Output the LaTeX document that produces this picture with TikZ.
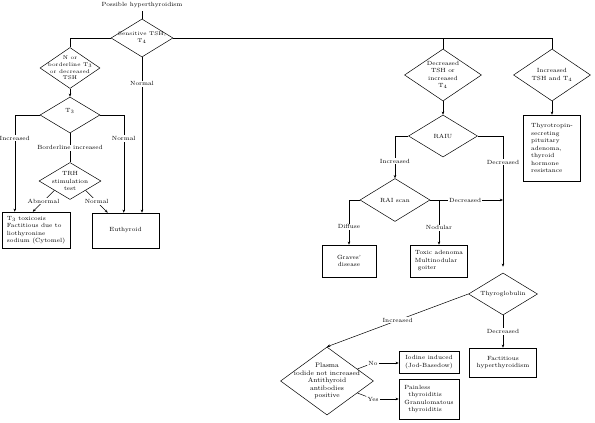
\documentclass[tikz,border=0pt]{standalone}
\usetikzlibrary{shapes.geometric,arrows.meta,calc}

\begin{document}
\begin{tikzpicture}[x=1pt,y=-1pt, font=\fontsize{6}{7.5}\selectfont,
  >={Stealth[length=3.2pt,width=2.6pt]}, line width=0.5pt,
  dec/.style={draw, diamond, inner sep=0pt},
  res/.style={draw, inner sep=2pt},
  lab/.style={fill=white, inner sep=1pt},
  tiny/.style={font=\fontsize{5.4}{6.6}\selectfont}]

\useasboundingbox (0,0) rectangle (595,423);

% Decisioni
\node (start) at (142,5) {Possible hyperthyroidism};
\node[dec, minimum width=62pt, minimum height=38pt,
  label={[align=center, tiny]center:{Sensitive TSH,\\T$_4$}}] (sens) at (142,38) {};
\node[dec, minimum width=60pt, minimum height=41pt,
  label={[align=center, tiny]center:{N or\\borderline T$_3$\\or decreased\\TSH}}] (ndia) at (70,68) {};
\node[dec, minimum width=60pt, minimum height=36pt,
  label={[align=center, yshift=4pt]center:{T$_3$}}] (t3) at (70,115) {};
\node[dec, minimum width=62pt, minimum height=37pt,
  label={[align=center]center:{TRH\\stimulation\\test}}] (trh) at (70,181) {};
\node[dec, minimum width=77pt, minimum height=52pt,
  label={[align=center]center:{Decreased\\TSH or\\increased\\T$_4$}}] (dec) at (443,75) {};
\node[dec, minimum width=77pt, minimum height=52pt,
  label={[align=center]center:{Increased\\TSH and T$_4$}}] (inc) at (552,75) {};
\node[dec, minimum width=69pt, minimum height=42pt,
  label={center:RAIU}] (raiu) at (443,136) {};
\node[dec, minimum width=70pt, minimum height=43pt,
  label={center:RAI scan}] (rais) at (395,200) {};
\node[dec, minimum width=69pt, minimum height=42pt,
  label={center:Thyroglobulin}] (thyg) at (503,294) {};
\node[dec, minimum width=93pt, minimum height=68pt,
  label={[align=center, font=\fontsize{6.6}{7.6}\selectfont]center:{Plasma\\iodide not increased\\Antithyroid\\antibodies\\positive}}] (plas) at (327,381) {};

% Esiti
\node[res, minimum width=68pt, minimum height=36pt, align=left] (tox) at (36,230)
  {T$_3$ toxicosis\\Factitious due to\\liothyronine\\sodium (Cytomel)};
\node[res, minimum width=67pt, minimum height=35pt] (euth) at (125.5,230.5) {Euthyroid};
\node[res, minimum width=57pt, minimum height=66pt, align=left] (ttsh) at (552,148)
  {Thyrotropin-\\secreting\\pituitary\\adenoma,\\thyroid\\hormone\\resistance};
\node[res, minimum width=54pt, minimum height=32pt, align=center] (grav) at (349,261) {Graves'\\disease};
\node[res, minimum width=57pt, minimum height=32pt, align=left] (toxa) at (439,261)
  {Toxic adenoma\\Multinodular\\\hspace{3pt}goiter};
\node[res, minimum width=67pt, minimum height=29pt, align=center] (fact) at (503,362.5)
  {Factitious\\hyperthyroidism};
\node[res, minimum width=60pt, minimum height=22pt, align=center] (iod) at (429,362)
  {Iodine induced\\(Jod-Basedow)};
\node[res, minimum width=60pt, minimum height=40pt, align=left] (pain) at (429,399)
  {Painless\\\hspace{4pt}thyroiditis\\Granulomatous\\\hspace{4pt}thyroiditis};
\node[inner sep=1pt] (no) at (373,363) {No};
\node[inner sep=1pt] (yes) at (373,399) {Yes};

% Collegamenti ramo sinistro
\draw (start) -- (sens.north);
\draw (sens.west) -| (ndia.north);
\draw[->] (ndia.south) -- (t3.north);
\draw[->] (t3.west) -| node[lab, pos=0.62] {Increased} ([xshift=13pt]tox.north west);
\draw[->] (t3.east) -| node[lab, pos=0.62] {Normal} ([xshift=32pt]euth.north west);
\draw (t3.south) -- node[lab] {Borderline increased} (trh.north);
\draw[->] (trh.south west) -- node[lab] {Abnormal} ([xshift=31pt]tox.north west);
\draw[->] (trh.south east) -- node[lab] {Normal} ([xshift=16pt]euth.north west);
\draw[->] (sens.south) -- node[lab, pos=0.17] {Normal} (sens.south |- euth.north);

% Collegamenti ramo destro
\draw (sens.east) -| (inc.north);
\draw (dec.north) -- (dec.north |- sens.east);
\draw[->] (dec.south) -- (raiu.north);
\draw[->] (inc.south) -- (ttsh.north);
\draw[->] (raiu.west) -| node[lab, pos=0.8] {Increased} (rais.north);
\draw[->] (raiu.east) -| node[lab, pos=0.6] {Decreased} ([yshift=6pt]thyg.north);
\draw[->] (rais.east) -- node[lab, pos=0.48] {Decreased} (rais.east -| thyg.north);
\draw[->] (rais.east -| toxa.north) -- node[lab, pos=0.62] {Nodular} (toxa.north);
\draw[->] (rais.west) -| node[lab, pos=0.8] {Diffuse} (grav.north);
\draw[->] (thyg.west) -- node[lab] {Increased} (plas.north);
\draw[->] (thyg.south) -- node[lab] {Decreased} (fact.north);
\draw ($(plas.north)!0.65!(plas.east)$) -- (no);
\draw[->] (no) -- (iod.west |- no);
\draw ($(plas.east)!0.35!(plas.south)$) -- (yes);
\draw[->] (yes) -- (pain.west |- yes);

\end{tikzpicture}
\end{document}
